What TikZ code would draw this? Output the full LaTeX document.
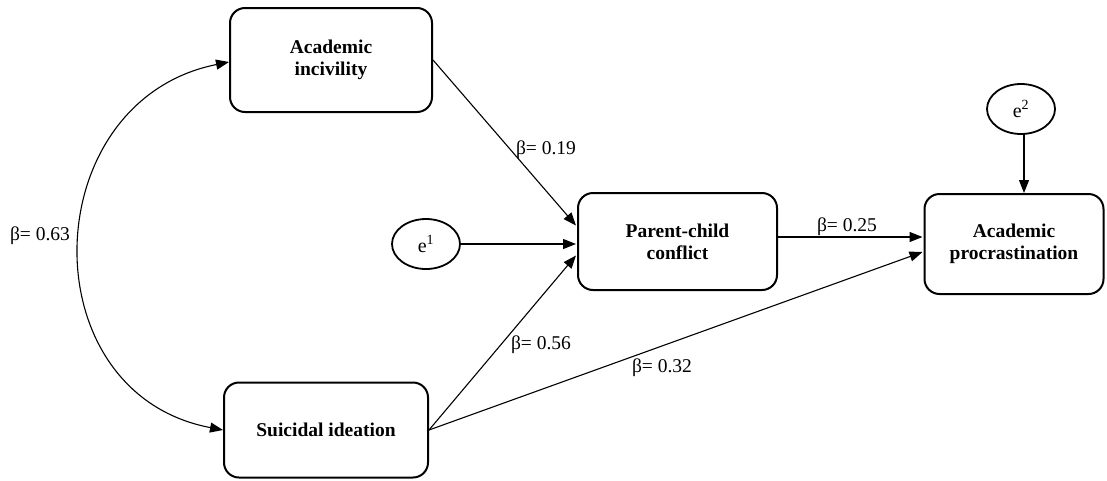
\documentclass[tikz,border=0pt]{standalone}
\usepackage{fontspec}
\setmainfont{Liberation Serif}
\usetikzlibrary{arrows.meta,calc,shapes.geometric}
\begin{document}
\begin{tikzpicture}[x=1pt,y=-1pt,
  varbox/.style={draw,line width=2pt,rounded corners=15pt,align=center,
    font=\fontsize{19.5}{22}\selectfont\bfseries,inner sep=0pt},
  errnode/.style={draw,ellipse,line width=1.8pt,minimum width=68pt,minimum height=50pt,
    inner sep=0pt,font=\fontsize{20}{22}\selectfont},
  path/.style={line width=1.1pt,-{Triangle[length=13pt,width=10pt]}},
  lab/.style={font=\fontsize{19.5}{22}\selectfont,inner sep=0pt}]
\useasboundingbox (0,0) rectangle (1107,480);
\node[varbox,minimum width=202pt,minimum height=104pt] (ai) at (331,60) {Academic\\incivility};
\node[varbox,minimum width=204pt,minimum height=95pt] (si) at (326,430) {Suicidal ideation};
\node[varbox,minimum width=199pt,minimum height=97pt] (pc) at (677.5,241.5) {Parent-child\\conflict};
\node[varbox,minimum width=179pt,minimum height=100pt] (ap) at (1014,244) {Academic\\procrastination};
\node[errnode] (e1) at (426,244) {e\textsuperscript{1}};
\node[errnode] (e2) at (1021,109) {e\textsuperscript{2}};
\coordinate (pcin1) at ($(pc.west)+(-1,-16)$);
\coordinate (pcin3) at ($(pc.west)+(-1,14)$);
\coordinate (apin1) at ($(ap.west)+(-1,-7)$);
\coordinate (apin2) at ($(ap.west)+(-1,8)$);
\coordinate (e2out) at ($(e2.south)+(3,0)$);
\draw[path] (ai.east) -- (pcin1);
\draw[path] (e1.east) -- (e1.east -| pcin1);
\draw[path] (si.east) -- (pcin3);
\draw[path] (apin1 -| pc.east) -- (apin1);
\draw[path] (si.east) -- (apin2);
\draw[path] (e2out) -- (e2out |- ap.north);
\draw[path,{Triangle[length=13pt,width=10pt]}-{Triangle[length=13pt,width=10pt]}]
  ($(ai.west)+(0,2)$) .. controls (35,101) and (28,393) .. (si.west);
\node[lab] (l63) at (40,236) {β= 0.63};
\node[lab] (l19) at (546,150) {β= 0.19};
\node[lab] (l56) at (541,345) {β= 0.56};
\node[lab] (l25) at (847,227) {β= 0.25};
\node[lab] (l32) at (662,368) {β= 0.32};
\end{tikzpicture}
\end{document}
